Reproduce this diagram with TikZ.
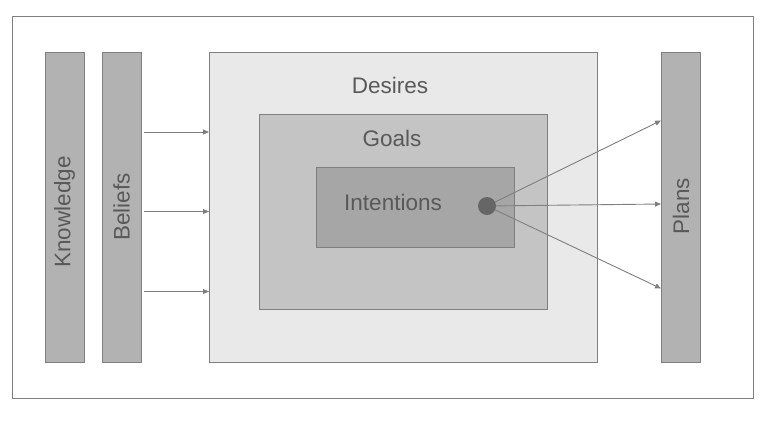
\documentclass[tikz,border=0pt]{standalone}
\usepackage{fontspec}
\setmainfont{Liberation Sans}
\usetikzlibrary{arrows.meta}
\definecolor{edge}{HTML}{7F7F7F}
\definecolor{txt}{HTML}{595959}
\definecolor{barfill}{HTML}{B2B2B2}
\definecolor{desfill}{HTML}{E9E9E9}
\definecolor{goalfill}{HTML}{C4C4C4}
\definecolor{intfill}{HTML}{A6A6A6}
\definecolor{dotfill}{HTML}{666666}
\tikzset{
  box/.style={draw=edge, line width=0.9pt},
  lbl/.style={text=txt, font=\fontsize{22.5}{26}\selectfont, inner sep=0pt},
  arr/.style={draw=edge, line width=0.9pt, -{Triangle[length=6pt,width=5pt]}},
}
\begin{document}
\begin{tikzpicture}[x=1pt,y=-1pt]
\useasboundingbox (0,0) rectangle (781,424);
\draw[draw=edge, line width=0.9pt] (12,16) rectangle (753,398);
% bars
\node[box, fill=barfill, minimum width=39pt, minimum height=310pt, inner sep=0pt] (know) at (64.5,207) {};
\node[box, fill=barfill, minimum width=39pt, minimum height=310pt, inner sep=0pt] (bel) at (121.5,207) {};
\node[box, fill=barfill, minimum width=39pt, minimum height=310pt, inner sep=0pt] (plans) at (681,207) {};
\node[lbl, rotate=90] (knowt) at (64.5,212) {Knowledge};
\node[lbl, rotate=90] (belt) at (121.5,207) {Beliefs};
\node[lbl, rotate=90] (plant) at (681,206) {Plans};
% nested boxes
\node[box, fill=desfill, minimum width=388pt, minimum height=310pt, inner sep=0pt] (des) at (403,207) {};
\node[box, fill=goalfill, minimum width=288pt, minimum height=195pt, inner sep=0pt] (goals) at (403,211.5) {};
\node[box, fill=intfill, minimum width=198pt, minimum height=80pt, inner sep=0pt] (int) at (415,207) {};
\node[lbl] (dest) at (390,85) {Desires};
\node[lbl] (goalt) at (392,138) {Goals};
\node[lbl] (intt) at (393,202) {Intentions};
% dot
\node[circle, fill=dotfill, minimum size=18pt, inner sep=0pt] (dot) at (487,206) {};
% left arrows
\coordinate (l1) at (144,132);
\coordinate (l2) at (144,211.5);
\coordinate (l3) at (144,291.5);
\coordinate (d1) at (209,132);
\coordinate (d2) at (209,211.5);
\coordinate (d3) at (209,291.5);
\draw[arr] (l1) -- (d1);
\draw[arr] (l2) -- (d2);
\draw[arr] (l3) -- (d3);
% right arrows
\coordinate (p1) at (661,120.5);
\coordinate (p2) at (661,204);
\coordinate (p3) at (661,288.5);
\draw[arr] (dot) -- (p1);
\draw[arr] (dot) -- (p2);
\draw[arr] (dot) -- (p3);
\end{tikzpicture}
\end{document}
